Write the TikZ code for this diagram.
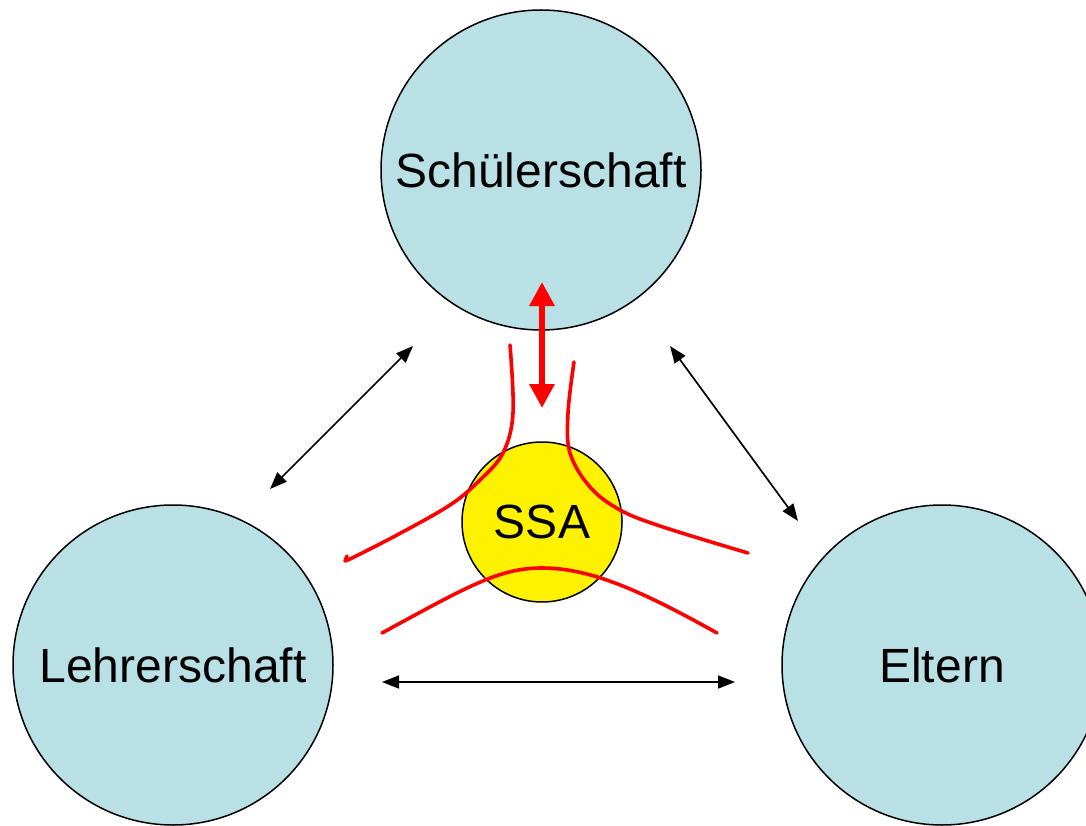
\documentclass[tikz,border=0pt]{standalone}
\usepackage{fontspec}
\setmainfont{Liberation Sans}
\usetikzlibrary{arrows.meta}
\definecolor{circfill}{RGB}{185,224,228}
\begin{document}
\begin{tikzpicture}[x=1pt,y=-1pt,
  group/.style={circle,draw=black,line width=1.5pt,fill=circfill,minimum size=320pt,inner sep=0pt,font=\fontsize{48}{52}\selectfont},
  ssa/.style={circle,draw=black,line width=1.5pt,fill=yellow,minimum size=160pt,inner sep=0pt,font=\fontsize{48}{52}\selectfont},
  link/.style={{Triangle[length=17pt,width=13pt]}-{Triangle[length=17pt,width=13pt]},line width=1.7pt},
  bond/.style={red,line width=3.6pt,line cap=round,line join=round},
  strong/.style={{Triangle[length=24pt,width=24pt]}-{Triangle[length=24pt,width=24pt]},red,line width=6pt},
  ]
\useasboundingbox (0,0) rectangle (1086,826);
\node[group] (sch) at (541,170) {Schülerschaft};
\node[group] (leh) at (173,665) {Lehrerschaft};
\node[group] (elt) at (942,665) {Eltern};
\node[ssa] (ssa) at (542,522) {SSA};
% connector end points
\coordinate (lA) at (270,489);
\coordinate (lB) at (413,346);
\coordinate (rA) at (670,346);
\coordinate (rB) at (798,521);
\coordinate (hA) at (382,682);
\coordinate (hB) at (735,682);
\coordinate (sA) at (542,282);
\coordinate (sB) at (542,408);
\draw[link] (lA) -- (lB);
\draw[link] (rA) -- (rB);
\draw[link] (hA) -- (hB);
\draw[strong] (sA) -- (sB);
% red curves
\draw[bond] plot[smooth,tension=0.6] coordinates {(510,345) (513,413) (503,453) (480,480) (450,505) (397,535) (350,559)} -- (345,561) -- (347,556);
\draw[bond] plot[smooth,tension=0.6] coordinates {(574,362) (568,413) (570,453) (590,487) (620,510) (663,527) (748,553)};
\draw[bond] (382,633) .. controls (470,585) and (500,568) .. (542,568) .. controls (590,568) and (640,590) .. (717,633);
\end{tikzpicture}
\end{document}
